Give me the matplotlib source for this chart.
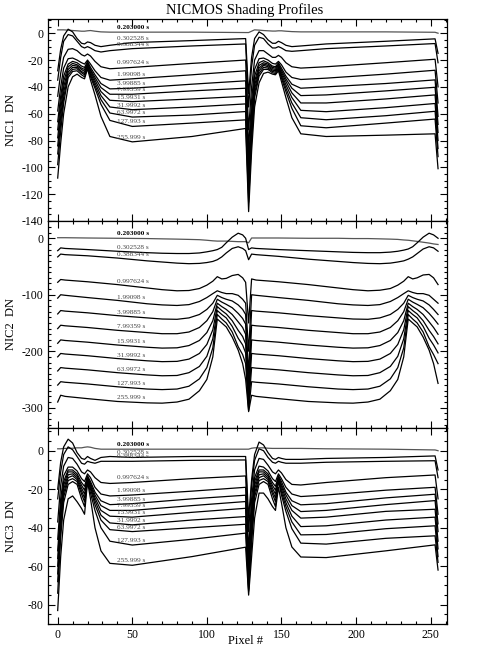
import numpy as np
import matplotlib
matplotlib.use("Agg")
import matplotlib.pyplot as plt
from matplotlib.ticker import MultipleLocator

plt.rcParams['font.family'] = ['Liberation Serif', 'DejaVu Serif']
plt.rcParams['axes.unicode_minus'] = False

# exposure times (labels on each curve)
exptimes = ["0.203000 s", "0.302528 s", "0.388344 s", "0.997624 s", "1.99098 s",
            "3.99885 s", "7.99359 s", "15.9931 s", "31.9992 s", "63.9972 s",
            "127.993 s", "255.999 s"]

# NIC1 and NIC3 profiles are sampled on the same pixel positions
pix13 = [0, 2, 4, 7, 10, 13, 16, 18, 20, 22, 25, 29, 35, 50, 90, 126, 128,
         130, 132, 135, 138, 141, 144, 146, 148, 150, 153, 157, 163, 180, 220, 253, 255]

nic1 = [
    [2.5, 2.5, 2.5, 2.3, 2.0, 1.8, 1.5, 1.5, 1.8, 2.0, 1.5, 1.0, 0.8, 0.8, 0.8, 0.5, 0.5,
     1.5, 2.5, 2.3, 2.0, 1.8, 1.6, 1.6, 1.8, 1.8, 1.5, 1.2, 1.0, 1.0, 1.0, 0.7, 0.0],
    [-28, -12, -2, 3, 1, -4, -7.5, -8, -6.5, -7, -9, -10, -9, -7, -5.5, -4, -45,
     -18, -4, 1, -1, -5, -7.5, -7.5, -6, -7, -9, -10, -9.5, -8, -6, -4.2, -15],
    [-35, -18, -6, -1, -2, -6, -10, -11, -10, -11, -13, -14, -13, -11.5, -9.5, -8, -55,
     -25, -9, -3, -4, -8, -11, -11, -10, -11, -13, -13.5, -13, -11.5, -9.5, -7.7, -22],
    [-47, -30, -18, -12, -11.5, -13, -16, -17, -15.5, -17, -21, -25, -26.5, -25.5, -22.5, -20, -72,
     -40, -20, -13, -13, -15.5, -18, -18, -16.5, -18, -22, -25, -26, -25, -22, -19.4, -40],
    [-58, -40, -26, -19, -18.5, -20, -22, -23, -20, -23, -28, -33, -35, -34, -31, -28, -85,
     -50, -27, -19, -18.5, -20, -22.5, -23, -21, -23.5, -29, -33, -34.5, -33.5, -30.5, -27.6, -52],
    [-66, -47, -32, -23, -21, -22, -24.5, -25.5, -21, -25.5, -31, -37.5, -41.5, -41, -38, -35.5, -95,
     -58, -32, -22, -20.5, -22, -24.5, -25, -22, -26, -32, -38, -41, -40, -37.5, -34.8, -62],
    [-72, -52, -36, -25, -22.5, -23.5, -26, -27, -22, -27, -33, -40.5, -45.5, -45.5, -43, -41, -102,
     -63, -36, -24, -22, -23, -25.5, -26, -23, -27.5, -34, -41, -46.5, -46, -43, -40.3, -68],
    [-78, -57, -40, -27, -24, -24.5, -27, -28.5, -23, -28, -35, -43.5, -50, -51, -49, -47, -108,
     -68, -39, -26, -23, -24, -26.5, -27, -24, -29, -36, -44.5, -52, -52, -49, -46, -74],
    [-84, -62, -44, -29, -25.5, -25.5, -28.5, -30, -24, -29.5, -37, -46.5, -55, -57, -55, -52.7, -114,
     -72, -42, -28, -24, -25, -27.5, -28, -25, -30.5, -38.5, -48, -57.5, -58.5, -55.5, -52.4, -80],
    [-90, -67, -48, -31, -27, -26.5, -29.5, -31, -25, -31, -39, -49.5, -59.5, -62.5, -61, -58.4, -120,
     -76, -45, -30, -25.5, -26, -28.5, -29, -26, -32, -41, -52, -63, -64.5, -61.5, -58.2, -86],
    [-98, -73, -52, -33, -28.5, -28, -31, -32.5, -25.5, -32.5, -41, -53, -65, -69.5, -67, -64.6, -126,
     -80, -48, -32, -27, -27, -29.5, -30, -27, -33.5, -43.5, -56, -69, -70.5, -67, -64, -92],
    [-108, -82, -60, -40, -32.5, -30.5, -33, -34, -26.5, -35, -46, -62, -77, -81, -77, -71, -133,
     -88, -55, -37, -30, -29, -30.5, -31, -28, -36, -48, -63, -75, -77, -76, -75, -101],
]

pix2 = [0, 2, 5, 20, 40, 60, 70, 80, 88, 95, 100, 104, 107, 110, 113, 117, 121, 124, 126, 128,
        130, 133, 148, 168, 188, 198, 208, 216, 223, 228, 232, 235, 238, 241, 245, 249, 252, 255]

nic2 = [
    [1, 1, 1, 0.5, 0, -0.5, -1, -1.5, -2, -2.5, -3.5, -4.5, -5, -5, -5, -5.5, -6, -6, -6, -8,
     0.5, 0.5, 0.5, 0, 0, -0.5, -0.5, -1, -1.5, -2, -3, -3.5, -4.5, -5.5, -7, -8.5, -10, -11],
    [-22, -17, -18, -20, -23, -25.5, -26.5, -27, -27, -26, -24, -22, -20, -16, -8, 2, 9, 6, 0, -20,
     -17, -18, -20, -22, -24, -25, -25.5, -25.5, -24.5, -23, -21, -19, -15, -8, 2, 9, 6, 0],
    [-33, -28, -29, -31, -35, -40, -42, -44, -45, -44.5, -43, -41, -38, -33, -26, -18, -15, -18, -22, -38,
     -28, -29, -32, -37, -41, -43, -44.5, -45, -44, -42, -40, -37, -33, -27, -19, -15, -17, -23],
    [-78, -73, -74, -77, -82, -88, -91, -93, -92.5, -89, -83, -76, -68, -72, -71, -66, -64, -70, -78, -150,
     -72, -74, -77, -82, -88, -91, -93, -92, -89, -83, -76, -68, -72, -70, -65, -64, -70, -82],
    [-106, -100, -101, -105, -110, -116, -118, -119, -117.5, -112, -105, -98, -93, -96, -98, -98, -101, -108, -115, -200,
     -100, -101, -105, -110, -116, -118, -119, -117.5, -112, -105, -98, -93, -96, -98, -98, -101, -108, -115],
    [-134, -128, -129, -132, -137, -141, -143, -143.5, -141, -135, -126, -115, -101, -105, -108, -111, -118, -126, -135, -240,
     -128, -129, -132, -137, -141, -143, -143.5, -141, -135, -126, -115, -101, -105, -108, -111, -118, -126, -135],
    [-160, -154, -155, -158, -163, -167, -169, -169, -166, -158, -146, -130, -108, -113, -117, -123, -133, -142, -152, -265,
     -154, -155, -158, -163, -167, -169, -169, -166, -158, -146, -130, -108, -113, -117, -123, -133, -142, -152],
    [-186, -180, -181, -184, -189, -193, -194.5, -194, -190, -181, -167, -146, -115, -121, -126, -135, -148, -158, -170, -280,
     -180, -181, -184, -189, -193, -194.5, -194, -190, -181, -167, -146, -115, -121, -126, -135, -148, -158, -170],
    [-210, -204, -205, -208, -213, -217, -218.5, -218, -214, -204, -188, -162, -121, -128, -134, -146, -163, -174, -187, -292,
     -204, -205, -208, -213, -217, -218.5, -218, -214, -204, -188, -162, -121, -128, -134, -146, -163, -174, -187],
    [-235, -229, -230, -233, -238, -242, -243.5, -243, -238, -227, -209, -178, -128, -135, -141, -156, -177, -189, -203, -300,
     -229, -230, -233, -238, -242, -243.5, -243, -238, -227, -209, -178, -128, -135, -141, -156, -177, -189, -203],
    [-260, -254, -255, -258, -263, -267, -268, -267, -262, -249, -229, -194, -135, -143, -150, -166, -192, -206, -222, -305,
     -254, -255, -258, -263, -267, -268, -267, -262, -249, -229, -194, -135, -143, -150, -166, -192, -206, -222],
    [-290, -278, -280, -284, -289, -291.5, -292, -290, -285, -270, -250, -210, -143, -150, -157, -175, -198, -222, -250, -307,
     -278, -280, -284, -289, -291.5, -292, -290, -285, -270, -250, -210, -143, -150, -157, -175, -198, -222, -257],
]

nic3 = [
    [1, 1, 1.2, 1.2, 1.3, 1.5, 1.5, 1.8, 2, 1.8, 1.2, 0.8, 0.8, 0.8, 0.8, 0.8, 0.8,
     1.3, 1.5, 1.5, 1.5, 1.3, 1.2, 1.2, 1.2, 1.2, 1.2, 1.2, 1.2, 1, 0.8, 0.4, 0],
    [-20, -6, 2, 6, 4, -1, -4, -4.5, -3, -4, -5, -3.5, -3, -3.5, -3, -3, -35,
     -15, -2, 4.5, 3, -1, -4, -4.5, -3.5, -4, -4.5, -4.5, -4.5, -4, -3.5, -2.7, -10],
    [-25, -11, -2, 2, 0.5, -3, -6.5, -7, -5.5, -6, -6.5, -5.5, -5.5, -5.5, -5, -4.8, -42,
     -18, -5, 1, 0, -3.5, -6, -6.5, -5.5, -6, -6.5, -6.5, -6.5, -6, -5.5, -5.2, -14],
    [-37, -18, -8, -3.5, -4, -7, -11, -12, -10, -11, -14, -16.5, -17, -16.5, -14.5, -13.1, -52,
     -25, -10, -4, -4.5, -7.5, -11, -12, -10, -11.5, -15, -17.5, -17.8, -16.5, -14, -12.6, -25],
    [-46, -25, -13, -8.5, -8.5, -10.5, -14.5, -16, -12, -14, -19, -22.5, -23.5, -23, -21, -19, -58,
     -30, -14, -8, -8.5, -10.5, -14.5, -16, -12, -14.5, -19, -22.5, -23.8, -23, -20.5, -19, -33],
    [-52, -29, -16, -10, -10, -12, -16.5, -18.5, -13, -16, -21.5, -26, -28, -27.5, -25, -23.1, -62,
     -33, -16, -10, -10, -12, -16.5, -18.5, -13, -16, -21.5, -26, -28.1, -27.5, -24.5, -22.6, -38],
    [-56, -32, -18, -11, -11, -13, -18, -20.5, -13.5, -17, -23, -28.5, -31, -31, -28.5, -26.4, -65,
     -36, -18, -11, -11, -13, -18, -20.5, -13.5, -17.5, -23, -28.5, -31.6, -31, -28, -25.9, -42],
    [-60, -35, -20, -12.5, -12, -14, -19.5, -22.5, -14, -18, -24.5, -31, -34, -34.5, -32, -29.9, -68,
     -39, -20, -12.5, -12, -14, -19.5, -22.5, -14, -18.5, -25, -31, -35, -34.5, -31.5, -30.4, -47],
    [-64, -38, -22, -14, -13, -15, -21, -24.5, -14.5, -19, -26, -33.5, -37.5, -38.5, -36, -34.2, -70,
     -42, -22, -14, -13, -15, -21, -24.5, -14.5, -20, -27, -34, -39.4, -39, -36, -34.5, -51],
    [-68, -41, -24, -15.5, -14.5, -16, -22.5, -26.5, -15, -20, -28, -36, -41, -42, -40, -38.2, -72,
     -45, -24, -15.5, -14.5, -16, -22.5, -26.5, -15, -21.5, -29, -37, -43.7, -43.5, -40.5, -39, -55],
    [-74, -45, -27, -17.5, -16, -17.5, -25, -29, -15.5, -22, -31, -40, -47, -49, -46, -42.8, -73,
     -48, -27, -17.5, -16, -17.5, -25, -29, -15.5, -23, -31.5, -40.5, -48, -48.5, -45.5, -44.2, -58],
    [-83, -55, -36, -25, -23.5, -26.5, -30, -33, -16, -25, -40, -52, -58.5, -59.5, -55, -50.1, -75,
     -55, -35, -22, -22, -25, -29, -31, -19, -27, -40, -50, -55.2, -55.5, -52, -48.9, -62],
]

W, H = 490, 652
fig = plt.figure(figsize=(W / 100, H / 100), dpi=100)

panels = [
    # x, curves, ylabel, ylim, major, minor, (top px, bottom px)
    (pix13, nic1, "NIC1  DN", (-140, 10.6), 20, 5, (19, 221)),
    (pix2, nic2, "NIC2  DN", (-336, 30.6), 100, 10, (221, 428)),
    (pix13, nic3, "NIC3  DN", (-90, 11.8), 20, 5, (428, 624)),
]

left, right = 48, 447
axes = []
for i, (xs, curves, ylab, ylim, major, minor, (top, bot)) in enumerate(panels):
    ax = fig.add_axes([left / W, 1 - bot / H, (right - left) / W, (bot - top) / H])
    for k, ys in enumerate(curves):
        col = '#555555' if k == 0 else 'black'
        ax.plot(xs, ys, color=col, lw=0.9)
        ylab_val = np.interp(50, xs, ys)
        ax.annotate(exptimes[k], (40, ylab_val), xytext=(0, 1.5),
                    textcoords='offset points', fontsize=5.2, va='bottom', ha='left',
                    color='black' if k == 0 else '#444444',
                    fontweight='bold' if k == 0 else 'normal')
    ax.set_xlim(-6.5, 261)
    ax.set_ylim(*ylim)
    ax.xaxis.set_major_locator(MultipleLocator(50))
    ax.xaxis.set_minor_locator(MultipleLocator(10))
    ax.yaxis.set_major_locator(MultipleLocator(major))
    ax.yaxis.set_minor_locator(MultipleLocator(minor))
    ax.tick_params(which='both', direction='in', top=True, right=True, labelsize=8.5)
    ax.tick_params(which='major', length=5, width=0.8)
    ax.tick_params(which='minor', length=2.5, width=0.8)
    if i < 2:
        ax.tick_params(labelbottom=False)
    ax.set_ylabel(ylab, fontsize=9)
    ax.yaxis.set_label_coords(-0.078, 0.5)
    for s in ax.spines.values():
        s.set_linewidth(0.9)
    axes.append(ax)

fig.text(0.5, 1 - 641 / H, "Pixel #", ha='center', va='center', fontsize=9)
fig.text(0.5, 1 - 10 / H, "NICMOS Shading Profiles", ha='center', va='center', fontsize=10.5)

fig.savefig("out.png", dpi=100)
